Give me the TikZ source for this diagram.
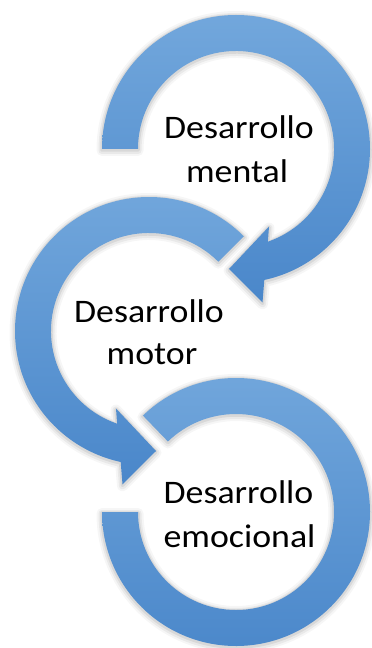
\documentclass[tikz,border=0pt]{standalone}
\usepackage{fontspec}
\setmainfont{Carlito}[FakeStretch=1.09]
\definecolor{bandtop}{HTML}{72A7DC}
\definecolor{bandmid}{HTML}{5D9AD6}
\definecolor{bandbot}{HTML}{4A87CA}
\begin{document}
\begin{tikzpicture}[x=1bp,y=1bp,
  band/.style={top color=bandtop, middle color=bandmid, bottom color=bandbot, draw=none},
  shadowed/.style={
    preaction={draw=black, draw opacity=0.035, line width=11bp, line join=round, transform canvas={yshift=-1.5bp}},
    preaction={draw=black, draw opacity=0.05, line width=7bp, line join=round, transform canvas={yshift=-1.5bp}},
    preaction={draw=black, draw opacity=0.07, line width=3.5bp, line join=round, transform canvas={yshift=-1bp}}},
  lbl/.style={anchor=base, inner sep=0pt, font=\fontsize{33}{40}\selectfont}]
\useasboundingbox (0,0) rectangle (371,-648);
\fill[white] (0,0) rectangle (371,-648);
% Desarrollo emocional ring
\begin{scope}[shift={(236,-512)}]
\path[band, shadowed] (134:134) arc[start angle=134, end angle=-180, radius=134]
  -- (180:98) arc[start angle=-180, end angle=134, radius=98] -- cycle;
\end{scope}
% Desarrollo motor arrow
\begin{scope}[shift={(149,-331)}]
\path[band, shadowed] (45:134) arc[start angle=45, end angle=257.8, radius=134]
  -- (-26.5,-153.3) -- (7,-120) -- (-33,-77.5)
  -- (251:98) arc[start angle=251, end angle=45, radius=98] -- cycle;
\end{scope}
% Desarrollo mental arrow
\begin{scope}[shift={(236,-149)}]
\path[band, shadowed] (180:134) arc[start angle=180, end angle=-77.8, radius=134]
  -- (26.5,-153.3) -- (-7,-120) -- (33,-77.5)
  -- (-71:98) arc[start angle=-71, end angle=180, radius=98] -- cycle;
\end{scope}
\node[lbl] (mental1) at (239,-139) {Desarrollo};
\node[lbl] (mental2) at (237,-183) {mental};
\node[lbl] (motor1) at (149,-322.5) {Desarrollo};
\node[lbl] (motor2) at (152,-364) {motor};
\node[lbl] (emo1) at (238.5,-503) {Desarrollo};
\node[lbl] (emo2) at (239.5,-547) {emocional};
\end{tikzpicture}
\end{document}
